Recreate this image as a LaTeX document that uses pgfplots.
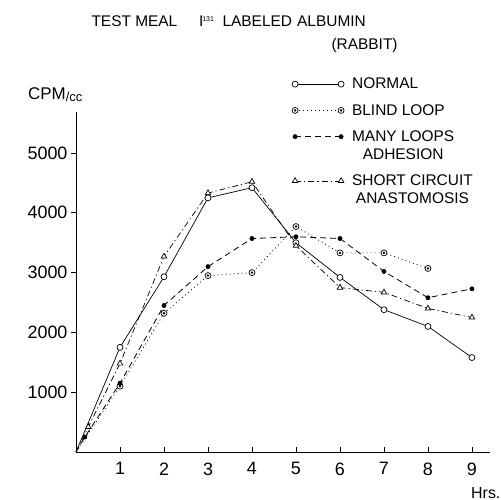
\documentclass[border=0pt]{standalone}
\usepackage{fontspec}
\setmainfont{Liberation Sans}
\usepackage{pgfplots}
\pgfplotsset{compat=1.18}
\pgfdeclareplotmark{odot}{%
  \pgfpathcircle{\pgfpointorigin}{\pgfplotmarksize}\pgfusepathqfillstroke
  \pgfscope
  \pgfsetfillcolor{black}%
  \pgfpathcircle{\pgfpointorigin}{0.45\pgfplotmarksize}\pgfusepathqfill
  \endpgfscope}
\begin{document}
\begin{tikzpicture}
\useasboundingbox (-76bp,-48bp) rectangle (425bp,452bp);
\begin{axis}[
  at={(0,0)}, anchor=south west,
  scale only axis, width=414bp, height=340bp,
  xmin=0, xmax=9.41, ymin=0, ymax=5686,
  axis lines=left, axis line style={-, line width=0.9bp},
  xtick={1,2,3,4,5,6,7,8,9}, ytick={1000,2000,3000,4000,5000},
  tick align=outside, major tick length=5bp,
  tick style={black, line width=0.7bp},
  major x tick style={yshift=5bp},
  ticklabel style={font=\fontsize{18}{18}\selectfont},
  /pgf/number format/assume math mode=true,
  yticklabel style={/pgf/number format/1000 sep={}},
  xticklabel style={yshift=-2bp},
  clip=false,
  legend image code/.code={\draw[#1,mark repeat=2,mark phase=1] plot coordinates {(0bp,0bp) (23bp,0bp) (46bp,0bp)};},
  legend style={draw=none, fill=none, at={(0.522,1.100)}, anchor=north west,
    inner sep=0pt, outer sep=0pt, row sep=14bp, column sep=8bp,
    nodes={inner sep=0pt}, cells={anchor=west, align=center},
    font=\fontsize{15.5}{18}\selectfont},
]
\addplot[black, line width=0.7bp, mark=*, mark size=3bp, mark phase=2, mark options={solid, fill=white}]
  coordinates {(0,0) (1,1750) (2,2930) (3,4250) (4,4420) (5,3500) (6,2920) (7,2380) (8,2100) (9,1580)};
\addlegendentry{NORMAL}
\addplot[black, line width=0.7bp, dash pattern=on 1bp off 3bp, mark=odot, mark size=3bp, mark phase=2, mark options={solid, fill=white}]
  coordinates {(0,0) (1,1100) (2,2320) (3,2950) (4,3000) (5,3770) (6,3330) (7,3330) (8,3070)};
\addlegendentry{BLIND LOOP}
\addplot[black, line width=0.8bp, dash pattern=on 6bp off 4bp, mark=*, mark size=2bp, mark phase=2, mark options={solid}, legend image post style={yshift=9bp}]
  coordinates {(0,0) (0.2,250) (1,1150) (2,2450) (3,3100) (4,3570) (5,3600) (6,3570) (7,3020) (8,2580) (9,2730)};
\addlegendentry{MANY LOOPS\\ADHESION}
\addplot[black, line width=0.7bp, dash pattern=on 6bp off 3bp on 1.2bp off 3bp, mark=triangle*, mark size=3.2bp, mark phase=2, mark options={solid, fill=white}, legend image post style={yshift=9bp}]
  coordinates {(0,0) (0.28,420) (1,1480) (2,3270) (3,4330) (4,4520) (5,3450) (6,2750) (7,2670) (8,2400) (9,2250)};
\addlegendentry{SHORT CIRCUIT\\ANASTOMOSIS}
\end{axis}
\node[anchor=base west, font=\fontsize{15.5}{18}\selectfont] at (12bp,425bp) {TEST MEAL};
\node[anchor=base east, font=\fontsize{15.5}{18}\selectfont] at (142bp,425bp) {I\textsuperscript{\kern-1bp\fontsize{7}{7}\selectfont 131}};
\node[anchor=base west, font=\fontsize{15.5}{18}\selectfont] at (143bp,425bp) {LABELED\,\,ALBUMIN};
\node[anchor=base west, font=\fontsize{15.5}{18}\selectfont] at (252bp,402bp) {(RABBIT)};
\node[anchor=base west, font=\fontsize{17}{18}\selectfont, inner sep=0pt] at (-48bp,352bp) {CPM\raisebox{-2bp}{\fontsize{13}{13}\selectfont /cc}};
\node[anchor=base west, font=\fontsize{16}{16}\selectfont, inner sep=0pt] at (395bp,-46bp) {Hrs.};
\end{tikzpicture}
\end{document}
